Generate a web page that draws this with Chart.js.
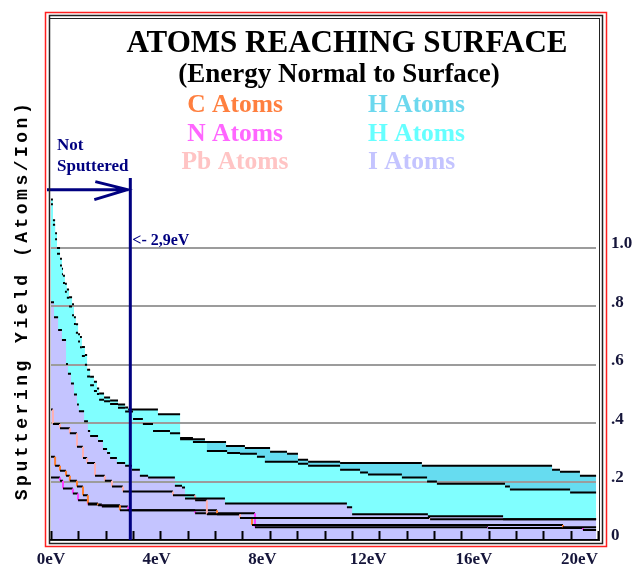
<!DOCTYPE html>
<html lang="en">
<head>
<meta charset="UTF-8" />
<title>Atoms Reaching Surface</title>
<script src="https://cdn.jsdelivr.net/npm/chart.js@4.4.1/dist/chart.umd.min.js"></script>
<style>
  body { margin: 0; background: #fff; }
  canvas { display: block; }
</style>
</head>
<body>
<canvas id="chart" width="638" height="568"></canvas>
<script>
// Step curves: level i holds from edges[i] to edges[i + 1] (energy in eV),
// values are sputtering yield in atoms/ion.
const hCyanEdges = [0, 0.07, 0.15, 0.22, 0.33, 0.40, 0.44, 0.51, 0.58, 0.66, 0.77, 0.84, 0.91, 0.99, 1.06, 1.13, 1.24, 1.32, 1.43, 1.57, 1.68, 1.76, 1.94, 2.16, 2.45, 2.71, 2.82, 3.91, 4.72, 5.19, 5.70, 6.44, 6.91, 7.53, 7.82, 9.03, 9.40, 10.57, 11.30, 11.59, 12.83, 13.75, 14.11, 16.60, 16.78, 18.98, 19.93];
const hCyanLevels = [1.166, 1.095, 1.051, 1.000, 0.963, 0.929, 0.905, 0.878, 0.858, 0.831, 0.807, 0.763, 0.739, 0.705, 0.695, 0.661, 0.634, 0.583, 0.559, 0.542, 0.519, 0.502, 0.488, 0.478, 0.464, 0.454, 0.447, 0.431, 0.349, 0.336, 0.305, 0.298, 0.295, 0.285, 0.268, 0.261, 0.254, 0.241, 0.231, 0.224, 0.214, 0.200, 0.193, 0.183, 0.173, 0.163];

const hBlueEdges = [0, 0.07, 0.15, 0.22, 0.33, 0.40, 0.44, 0.51, 0.58, 0.66, 0.77, 0.84, 0.91, 0.99, 1.06, 1.13, 1.24, 1.32, 1.43, 1.57, 1.68, 1.76, 1.94, 2.16, 2.45, 2.71, 3.00, 3.36, 3.73, 4.35, 4.72, 5.63, 6.40, 7.09, 8.01, 8.63, 9.03, 9.40, 10.57, 13.56, 18.32, 18.61, 19.34, 19.93];
const hBlueLevels = [1.15, 1.08, 1.03, 0.98, 0.94, 0.91, 0.88, 0.85, 0.83, 0.80, 0.77, 0.74, 0.71, 0.68, 0.66, 0.63, 0.60, 0.56, 0.53, 0.51, 0.50, 0.48, 0.475, 0.466, 0.453, 0.44, 0.414, 0.397, 0.373, 0.366, 0.345, 0.336, 0.322, 0.315, 0.302, 0.295, 0.275, 0.268, 0.264, 0.254, 0.241, 0.234, 0.220];

const iEdges = [0, 0.11, 0.26, 0.40, 0.55, 0.62, 0.73, 0.84, 0.95, 1.02, 1.21, 1.35, 1.43, 1.72, 1.90, 2.05, 2.16, 2.41, 2.71, 2.96, 3.25, 3.55, 4.53, 4.79, 4.90, 6.36, 10.82, 11.01, 13.78, 16.53, 19.93];
const iLevels = [0.814, 0.763, 0.719, 0.685, 0.603, 0.569, 0.536, 0.498, 0.464, 0.441, 0.407, 0.373, 0.356, 0.339, 0.312, 0.298, 0.281, 0.264, 0.254, 0.241, 0.220, 0.214, 0.186, 0.180, 0.142, 0.125, 0.112, 0.088, 0.081, 0.071];

const pbEdges = [0, 0.07, 0.33, 0.69, 0.95, 1.17, 1.32, 1.61, 1.97, 2.23, 2.63, 4.46, 5.27, 5.70, 6.91, 13.86, 19.93];
const pbLevels = [0.447, 0.397, 0.383, 0.366, 0.319, 0.281, 0.264, 0.220, 0.203, 0.183, 0.166, 0.153, 0.136, 0.088, 0.075, 0.071];

const cEdges = [0, 0.15, 0.33, 0.55, 0.69, 0.95, 1.17, 1.35, 1.72, 2.52, 6.07, 6.91, 7.35, 18.72, 19.93];
const cLevels = [0.285, 0.254, 0.237, 0.220, 0.203, 0.183, 0.153, 0.125, 0.119, 0.102, 0.088, 0.075, 0.051, 0.044];

const nEdges = [0, 0.33, 0.44, 0.80, 0.99, 1.35, 1.86, 2.82, 5.27, 7.46, 15.98, 19.45, 19.93];
const nLevels = [0.214, 0.203, 0.176, 0.159, 0.136, 0.122, 0.115, 0.102, 0.092, 0.044, 0.041, 0.034];

const xLabelTicks = [0, 4, 8, 12, 16, 20];
const xLabels = ['0eV', '4eV', '8eV', '12eV', '16eV', '20eV'];
const yTicks = [0, 0.2, 0.4, 0.6, 0.8, 1.0];
const yLabels = ['0', '.2', '.4', '.6', '.8', '1.0'];

const cutoffEnergy = 2.9;
const cutoffText = '<- 2,9eV';
const arrowLevel = 1.2;
const cutoffTop = 1.24;

const legendLeft = [['C Atoms', '#ff7f3f'], ['N Atoms', '#ff66ff'], ['Pb Atoms', '#ffc4c4']];
const legendRight = [['H Atoms', '#6cd8ee'], ['H Atoms', '#66ffff'], ['I Atoms', '#c4c4ff']];

const navy = '#000080';
const serif = '"Liberation Serif", "Times New Roman", serif';

function steps(edges, levels) {
  const pts = [];
  levels.forEach((v, i) => {
    pts.push({ x: edges[i], y: v }, { x: edges[i + 1], y: v });
  });
  return pts;
}

// shaded area under a step curve, no outline
function area(label, edges, levels, color, order) {
  return {
    label,
    data: steps(edges, levels),
    order,
    fill: 'origin',
    backgroundColor: color,
    borderWidth: 0,
    pointRadius: 0,
    tension: 0
  };
}

// outline: horizontal treads black, risers in the series colour
function edge(label, edges, levels, riser) {
  return {
    label,
    data: steps(edges, levels),
    order: 0,
    fill: false,
    borderColor: '#000',
    borderWidth: 2,
    pointRadius: 0,
    tension: 0,
    segment: {
      borderColor: c => (c.p0.parsed.x === c.p1.parsed.x ? riser : '#000')
    }
  };
}

const decorations = {
  id: 'decorations',
  beforeDatasetsDraw(chart) {
    const { ctx, chartArea: a, scales: { y } } = chart;
    ctx.save();
    ctx.strokeStyle = '#9c9c9c';
    ctx.lineWidth = 2;
    yTicks.forEach(v => {
      if (v <= 0) return;
      const py = Math.round(y.getPixelForValue(v));
      ctx.beginPath();
      ctx.moveTo(a.left, py);
      ctx.lineTo(a.right - 2, py);
      ctx.stroke();
    });
    ctx.restore();
  },
  afterDatasetsDraw(chart) {
    const { ctx, chartArea: a, scales: { x, y } } = chart;
    ctx.save();
    // 1 eV tick marks inside the bottom edge
    ctx.strokeStyle = '#000';
    ctx.lineWidth = 2;
    for (let e = x.min; e <= x.max; e++) {
      const px = Math.round(x.getPixelForValue(e)) + 0.5;
      ctx.beginPath();
      ctx.moveTo(px, a.bottom - 9);
      ctx.lineTo(px, a.bottom);
      ctx.stroke();
    }
    ctx.beginPath();
    ctx.moveTo(a.left - 1, a.bottom);
    ctx.lineTo(a.right + 2, a.bottom);
    ctx.stroke();

    // sputtering threshold and the "not sputtered" arrow
    const cx = x.getPixelForValue(cutoffEnergy);
    const ay = y.getPixelForValue(arrowLevel);
    ctx.strokeStyle = navy;
    ctx.lineWidth = 3;
    ctx.beginPath();
    ctx.moveTo(cx, y.getPixelForValue(cutoffTop));
    ctx.lineTo(cx, a.bottom);
    ctx.moveTo(a.left - 4, ay);
    ctx.lineTo(cx - 2, ay);
    ctx.moveTo(cx - 35, ay - 8);
    ctx.lineTo(cx - 3, ay);
    ctx.lineTo(cx - 36, ay + 10);
    ctx.stroke();

    ctx.fillStyle = navy;
    ctx.textBaseline = 'alphabetic';
    ctx.font = 'bold 17px ' + serif;
    ctx.fillText('Not', 57, 150);
    ctx.fillText('Sputtered', 57, 171);
    ctx.font = 'bold 16px ' + serif;
    ctx.fillText(cutoffText, cx + 2, ay + 55);
    ctx.restore();
  },
  afterDraw(chart) {
    const { ctx, chartArea: a } = chart;
    ctx.save();
    // frame
    ctx.strokeStyle = '#ff2020';
    ctx.lineWidth = 1.5;
    ctx.strokeRect(45.5, 12.5, 561, 534);
    ctx.strokeStyle = '#222';
    ctx.lineWidth = 1.5;
    ctx.strokeRect(49.5, 15.5, 553, 528);
    ctx.lineWidth = 1;
    ctx.strokeRect(a.left - 1.5, 18.5, a.right - a.left + 3, a.bottom - 18);

    // headings
    ctx.fillStyle = '#000';
    ctx.textAlign = 'center';
    ctx.textBaseline = 'alphabetic';
    ctx.font = 'bold 31px ' + serif;
    ctx.fillText('ATOMS REACHING SURFACE', 347, 52);
    ctx.font = 'bold 27px ' + serif;
    ctx.fillText('(Energy Normal to Surface)', 339, 82);

    // element key
    ctx.font = 'bold 25.5px ' + serif;
    legendLeft.forEach(([t, c], i) => {
      ctx.fillStyle = c;
      ctx.fillText(t, 235, 112 + i * 28.5);
    });
    ctx.textAlign = 'left';
    legendRight.forEach(([t, c], i) => {
      ctx.fillStyle = c;
      ctx.fillText(t, 368, 112 + i * 28.5);
    });

    // axis title
    ctx.translate(22, 300);
    ctx.rotate(-Math.PI / 2);
    ctx.textAlign = 'center';
    ctx.textBaseline = 'middle';
    ctx.fillStyle = '#000';
    ctx.font = 'bold 18px "Liberation Mono", "Courier New", monospace';
    if ('letterSpacing' in ctx) ctx.letterSpacing = '3.5px';
    ctx.fillText('Sputtering Yield (Atoms/Ion)', 0, 0);
    ctx.restore();
  }
};

new Chart(document.getElementById('chart'), {
  type: 'line',
  data: {
    datasets: [
      area('I Atoms', iEdges, iLevels, '#c4c4ff', 1),
      area('H Atoms', hCyanEdges, hCyanLevels, '#80ffff', 2),
      area('H Atoms', hBlueEdges, hBlueLevels, '#66dcf0', 3),
      edge('H Atoms', hBlueEdges, hBlueLevels, 'transparent'),
      edge('H Atoms', hCyanEdges, hCyanLevels, 'transparent'),
      edge('I Atoms', iEdges, iLevels, 'transparent'),
      edge('Pb Atoms', pbEdges, pbLevels, '#ffb0b0'),
      edge('C Atoms', cEdges, cLevels, '#ff8030'),
      edge('N Atoms', nEdges, nLevels, '#ff40ff')
    ]
  },
  options: {
    responsive: false,
    animation: false,
    events: [],
    layout: { padding: { left: 51, right: 0, top: 18, bottom: 0 } },
    plugins: {
      legend: { display: false },
      tooltip: { enabled: false },
      filler: { drawTime: 'beforeDatasetsDraw' }
    },
    scales: {
      x: { type: 'linear', display: false, min: 0, max: 20 },
      xl: {
        type: 'linear',
        position: 'bottom',
        min: 0,
        max: 20.7,
        afterBuildTicks: s => { s.ticks = xLabelTicks.map(v => ({ value: v })); },
        afterFit: s => { s.height = 28; },
        grid: { display: false, drawTicks: false },
        border: { display: false },
        ticks: {
          callback: (v, i) => xLabels[i],
          autoSkip: false,
          maxRotation: 0,
          padding: 9,
          color: '#15153a',
          font: { family: serif, size: 17, weight: 'bold' }
        }
      },
      y: {
        position: 'right',
        min: 0,
        max: 1.77,
        afterBuildTicks: s => { s.ticks = yTicks.map(v => ({ value: v })); },
        afterFit: s => { s.width = 40; },
        grid: { display: false, drawTicks: false },
        border: { display: false },
        ticks: {
          callback: (v, i) => yLabels[i],
          padding: 13,
          labelOffset: -4,
          color: '#15153a',
          font: { family: serif, size: 17, weight: 'bold' }
        }
      }
    }
  },
  plugins: [decorations]
});
</script>
</body>
</html>
